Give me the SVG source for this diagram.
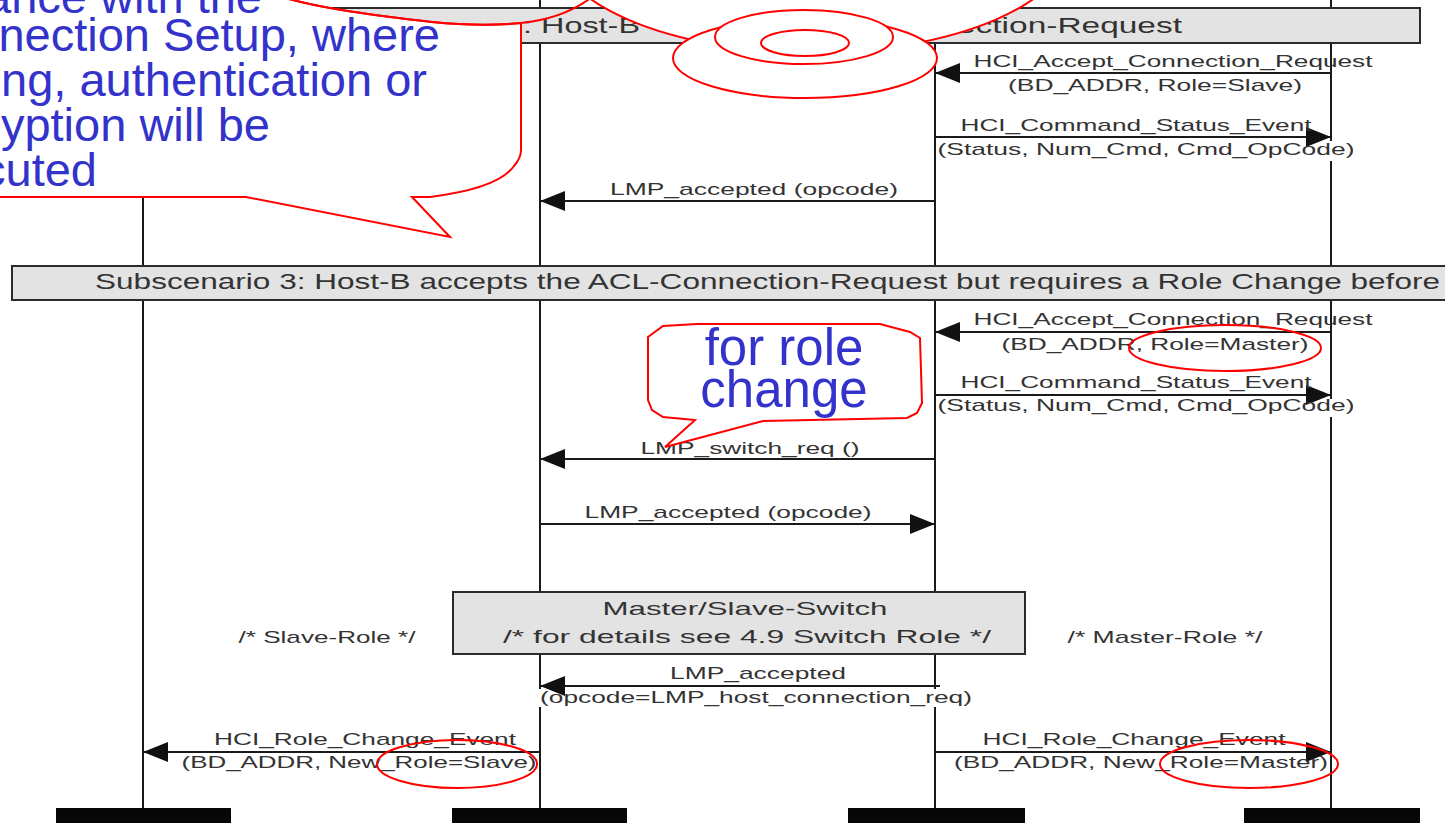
<svg xmlns="http://www.w3.org/2000/svg" width="1445" height="823" viewBox="0 0 1445 823">
  <defs>
    <style>
      .life { stroke: #1a1a1a; stroke-width: 2; }
      .bar { fill: #060606; }
      .box { fill: #e3e3e3; stroke: #2b2b2b; stroke-width: 2; }
      .msgline { stroke: #1a1a1a; stroke-width: 2; fill: none; marker-end: url(#head); }
      .txt { font-family: "Liberation Sans", Arial, sans-serif; fill: #333333; }
      .msg { font-size: 17px; text-anchor: middle; }
      .title { font-size: 22px; }
      .sw { font-size: 19px; text-anchor: middle; }
      .bg { fill: #ffffff; }
      .red { fill: none; stroke: #ff0000; stroke-width: 2; }
      .redw { fill: #ffffff; stroke: #ff0000; stroke-width: 2; }
      .blue { font-family: "Liberation Sans", Arial, sans-serif; fill: #3333cc; }
    </style>
    <marker id="head" markerUnits="userSpaceOnUse" markerWidth="26" markerHeight="22" refX="25" refY="10" orient="auto">
      <path d="M0,0 L25,10 L0,20 Z" fill="#111111"/>
    </marker>
  </defs>

  <rect x="0" y="0" width="1445" height="823" fill="#ffffff"/>

  <!-- lifelines with their end bars -->
  <g id="lifeline-host-a">
    <line class="life" x1="143" y1="0" x2="143" y2="808"/>
    <rect class="bar" x="56" y="808" width="175" height="15"/>
  </g>
  <g id="lifeline-lm-a">
    <line class="life" x1="540" y1="0" x2="540" y2="808"/>
    <rect class="bar" x="452" y="808" width="175" height="15"/>
  </g>
  <g id="lifeline-lm-b">
    <line class="life" x1="935" y1="0" x2="935" y2="808"/>
    <rect class="bar" x="848" y="808" width="177" height="15"/>
  </g>
  <g id="lifeline-host-b">
    <line class="life" x1="1331" y1="0" x2="1331" y2="808"/>
    <rect class="bar" x="1244" y="808" width="176" height="15"/>
  </g>

  <!-- subscenario banners -->
  <g id="subscenario-2">
    <rect class="box" x="12" y="8" width="1408" height="35"/>
    <text class="txt title" x="523" y="33" textLength="117" lengthAdjust="spacingAndGlyphs">: Host-B</text>
    <text class="txt title" x="957" y="33" textLength="225" lengthAdjust="spacingAndGlyphs">ection-Request</text>
  </g>
  <g id="subscenario-3">
    <rect class="box" x="12" y="266" width="1460" height="34"/>
    <text class="txt title" x="95" y="289" textLength="1345" lengthAdjust="spacingAndGlyphs">Subscenario 3: Host-B accepts the ACL-Connection-Request but requires a Role Change before</text>
  </g>
  <g id="switch-box">
    <rect class="box" x="453" y="592" width="572" height="62"/>
    <text class="txt sw" x="745" y="615" textLength="285" lengthAdjust="spacingAndGlyphs">Master/Slave-Switch</text>
    <text class="txt sw" x="747" y="643" textLength="488" lengthAdjust="spacingAndGlyphs">/* for details see 4.9 Switch Role */</text>
  </g>

  <!-- label backgrounds that break the lifelines -->
  <g id="label-backgrounds">
    <rect class="bg" x="937" y="141" width="420" height="20"/>
    <rect class="bg" x="937" y="399" width="420" height="18"/>
    <rect class="bg" x="538" y="689" width="436" height="18"/>
  </g>

  <!-- messages -->
  <g id="connectors">
    <line class="msgline" x1="1331" y1="73" x2="935" y2="73"/>
    <line class="msgline" x1="935" y1="137" x2="1331" y2="137"/>
    <line class="msgline" x1="935" y1="201" x2="540" y2="201"/>
    <line class="msgline" x1="1331" y1="332" x2="935" y2="332"/>
    <line class="msgline" x1="935" y1="395" x2="1331" y2="395"/>
    <line class="msgline" x1="935" y1="459" x2="540" y2="459"/>
    <line class="msgline" x1="540" y1="524" x2="935" y2="524"/>
    <line class="msgline" x1="940" y1="686" x2="540" y2="686"/>
    <line class="msgline" x1="540" y1="752" x2="143" y2="752"/>
    <line class="msgline" x1="935" y1="752" x2="1331" y2="752"/>
  </g>

  <!-- message labels -->
  <g id="labels" class="txt msg">
    <text x="1173" y="67" textLength="399" lengthAdjust="spacingAndGlyphs">HCI_Accept_Connection_Request</text>
    <text x="1155" y="91" textLength="294" lengthAdjust="spacingAndGlyphs">(BD_ADDR, Role=Slave)</text>
    <text x="1136" y="131" textLength="351" lengthAdjust="spacingAndGlyphs">HCI_Command_Status_Event</text>
    <text x="1146" y="155" textLength="417" lengthAdjust="spacingAndGlyphs">(Status, Num_Cmd, Cmd_OpCode)</text>
    <text x="754" y="195" textLength="288" lengthAdjust="spacingAndGlyphs">LMP_accepted (opcode)</text>

    <text x="1173" y="325" textLength="399" lengthAdjust="spacingAndGlyphs">HCI_Accept_Connection_Request</text>
    <text x="1155" y="350" textLength="307" lengthAdjust="spacingAndGlyphs">(BD_ADDR, Role=Master)</text>
    <text x="1136" y="388" textLength="351" lengthAdjust="spacingAndGlyphs">HCI_Command_Status_Event</text>
    <text x="1146" y="411" textLength="417" lengthAdjust="spacingAndGlyphs">(Status, Num_Cmd, Cmd_OpCode)</text>
    <text x="750" y="454" textLength="219" lengthAdjust="spacingAndGlyphs">LMP_switch_req ()</text>
    <text x="728" y="518" textLength="287" lengthAdjust="spacingAndGlyphs">LMP_accepted (opcode)</text>

    <text x="327" y="643" textLength="177" lengthAdjust="spacingAndGlyphs">/* Slave-Role */</text>
    <text x="1165" y="643" textLength="195" lengthAdjust="spacingAndGlyphs">/* Master-Role */</text>
    <text x="758" y="679" textLength="176" lengthAdjust="spacingAndGlyphs">LMP_accepted</text>
    <text x="756" y="703" textLength="432" lengthAdjust="spacingAndGlyphs">(opcode=LMP_host_connection_req)</text>
    <text x="365" y="745" textLength="302" lengthAdjust="spacingAndGlyphs">HCI_Role_Change_Event</text>
    <text x="359" y="768" textLength="355" lengthAdjust="spacingAndGlyphs">(BD_ADDR, New_Role=Slave)</text>
    <text x="1134" y="745" textLength="303" lengthAdjust="spacingAndGlyphs">HCI_Role_Change_Event</text>
    <text x="1141" y="768" textLength="374" lengthAdjust="spacingAndGlyphs">(BD_ADDR, New_Role=Master)</text>
  </g>

  <!-- red highlight rings on role parameters -->
  <g id="highlights">
    <ellipse class="red" cx="1225" cy="348" rx="96" ry="23"/>
    <ellipse class="red" cx="457" cy="764" rx="80" ry="24"/>
    <ellipse class="red" cx="1249" cy="764" rx="89" ry="24"/>
  </g>

  <!-- note callout, upper left -->
  <g id="note-setup">
    <path class="redw" d="M-30,197 L246,197 L450,237 L412,197 L430,197 C470,192 503,182 514,166 Q521,158 521,150 L521,23 C490,26 462,25 432,22 C380,16 322,9 282,-3 L-30,-3 Z"/>
    <g class="blue" font-size="47" text-anchor="end">
      <text x="262" y="13">ance with the</text>
      <text x="440" y="51">nection Setup, where</text>
      <text x="427" y="96">ng, authentication or</text>
      <text x="270" y="141">yption will be</text>
      <text x="97" y="186">cuted</text>
    </g>
  </g>

  <!-- overlapping marker rings, top centre -->
  <g id="marker-rings">
    <path class="red" d="M282,-3 C322,9 380,16 432,22 C462,25 490,26 521,23 C550,20 575,10 592,-3"/>
    <ellipse class="redw" cx="812" cy="-60" rx="260" ry="112.5"/>
    <ellipse class="redw" cx="805" cy="58" rx="132" ry="40"/>
    <ellipse class="redw" cx="804" cy="37" rx="89" ry="27"/>
    <ellipse class="redw" cx="805" cy="43" rx="44" ry="13"/>
  </g>

  <!-- note callout, role change -->
  <g id="note-role-change">
    <path class="redw" d="M648,337 L663,326 L697,324 L880,324 L910,332 L920,338 L922,403 L917,413 L907,418 L763,421 L665,447 L695,420 L663,417 L652,410 L648,400 Z"/>
    <g class="blue" font-size="51" text-anchor="middle">
      <text x="784" y="365">for role</text>
      <text x="784" y="407">change</text>
    </g>
  </g>
</svg>
